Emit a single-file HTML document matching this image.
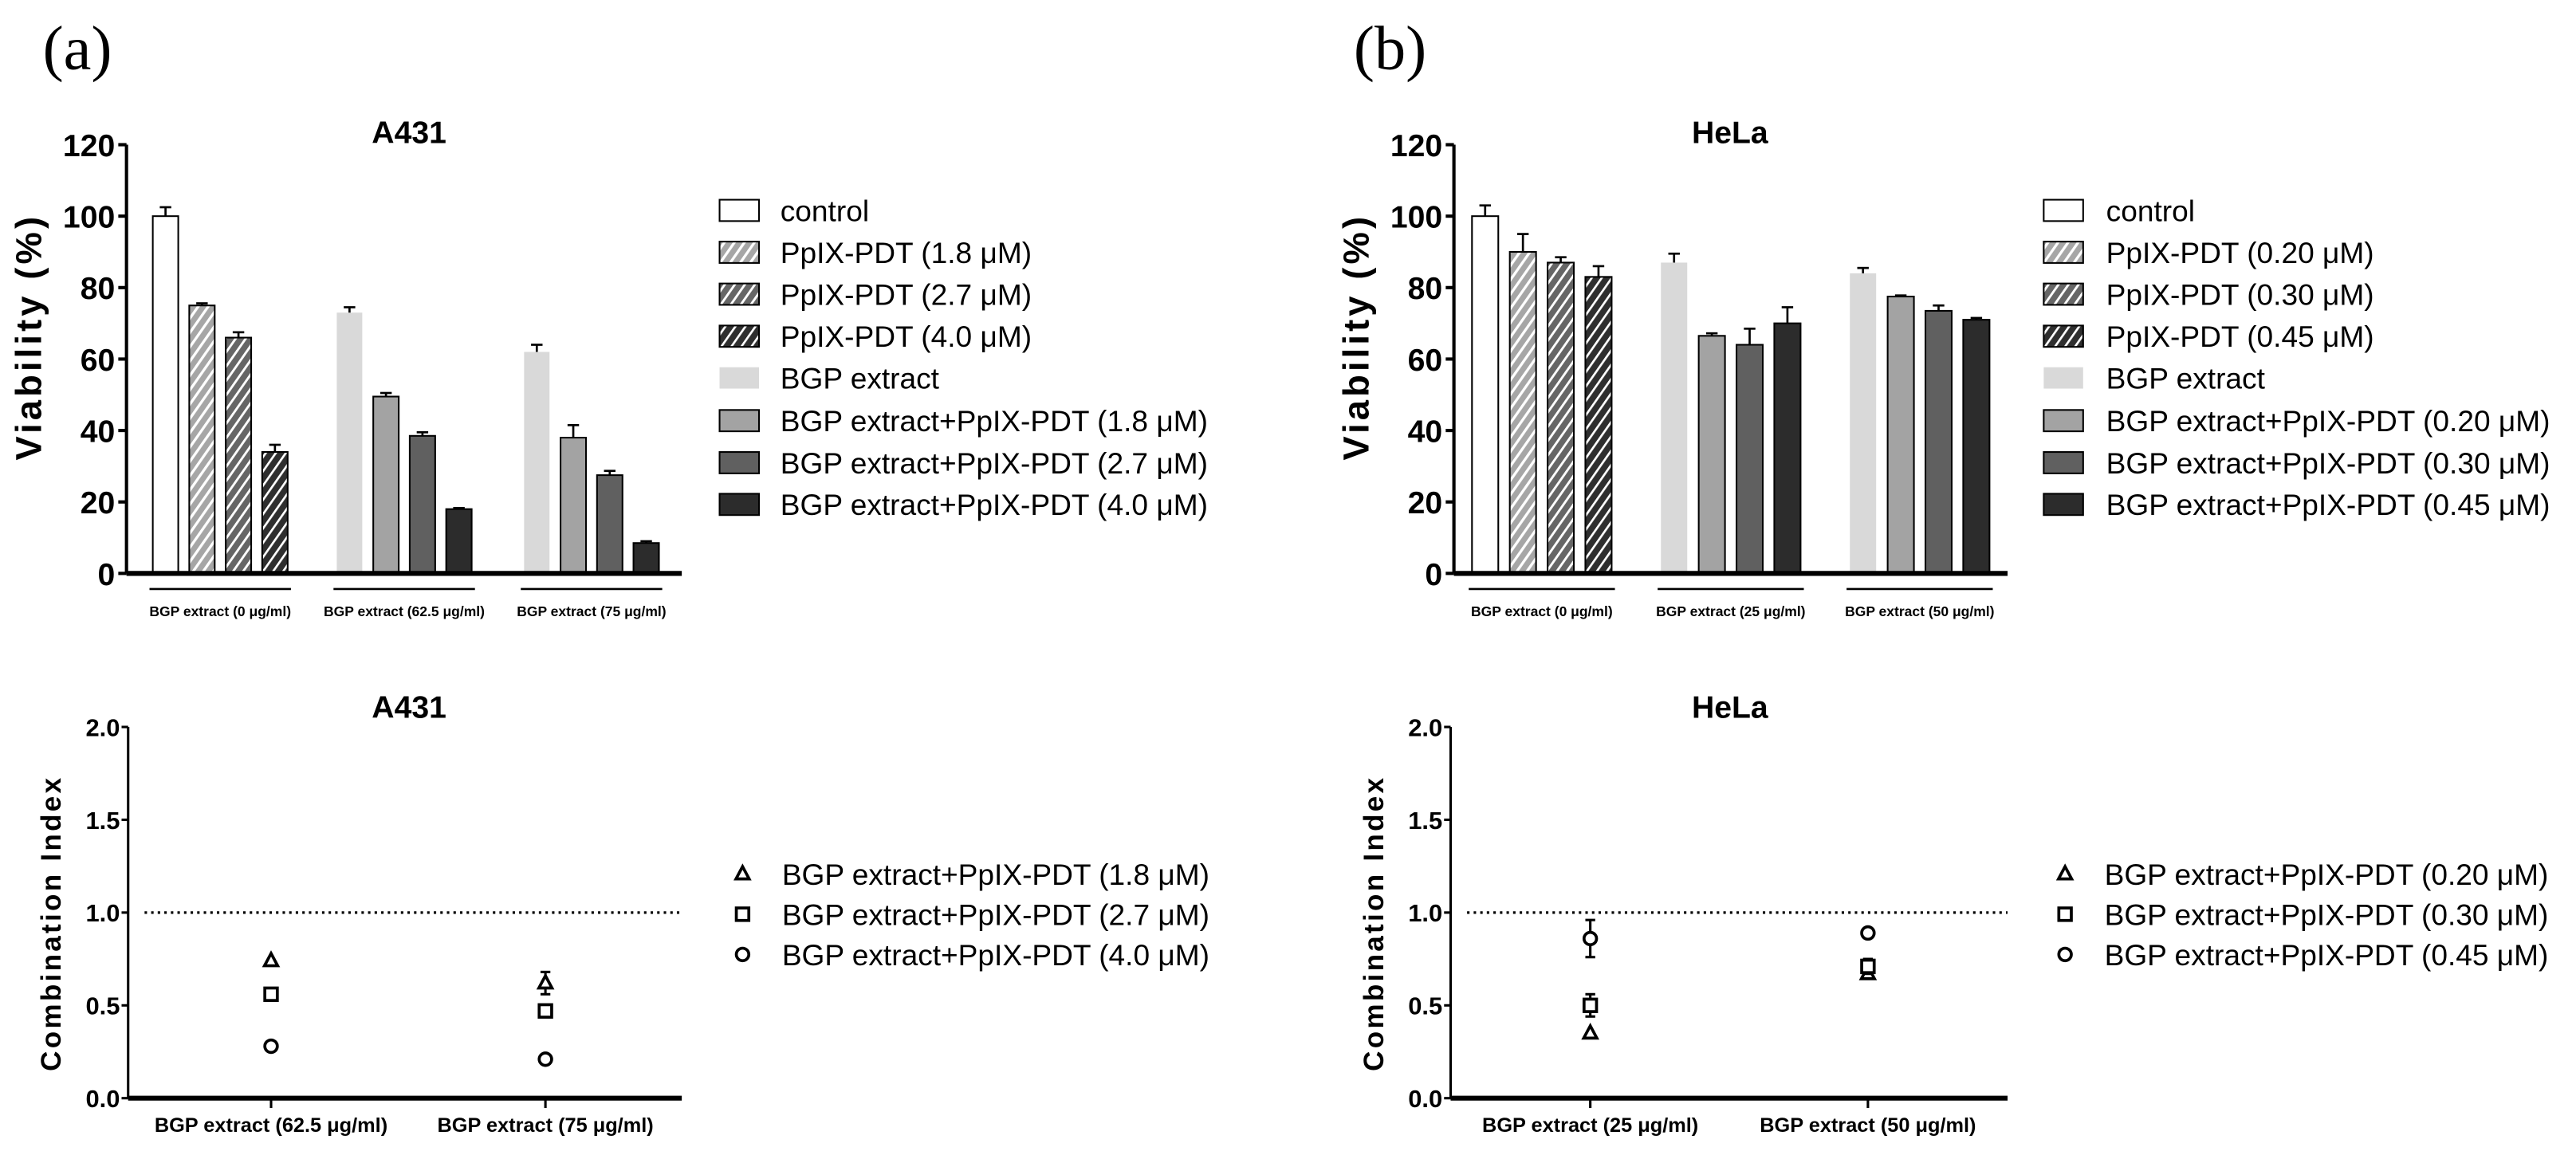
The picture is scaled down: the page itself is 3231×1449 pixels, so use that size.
<!DOCTYPE html>
<html><head><meta charset="utf-8">
<style>
html,body{margin:0;padding:0;background:#fff;}
svg{display:block;}
text{font-family:"Liberation Sans",Arial,sans-serif;}
</style></head>
<body>
<svg id="fig" width="3231" height="1449" viewBox="0 0 1568 703" xmlns="http://www.w3.org/2000/svg">
<defs>
<pattern id="h1" patternUnits="userSpaceOnUse" width="5" height="5" patternTransform="rotate(35)"><rect width="5" height="5" fill="#a6a6a6"/><rect width="1.6" height="5" fill="#fff"/></pattern>
<pattern id="h2" patternUnits="userSpaceOnUse" width="5" height="5" patternTransform="rotate(35)"><rect width="5" height="5" fill="#666"/><rect width="1.4" height="5" fill="#fff"/></pattern>
<pattern id="h3" patternUnits="userSpaceOnUse" width="5" height="5" patternTransform="rotate(35)"><rect width="5" height="5" fill="#2e2e2e"/><rect width="1.3" height="5" fill="#fff"/></pattern>
</defs>
<text x="26" y="42" font-size="38" style="font-family:'Liberation Serif',serif">(a)</text>
<text x="824" y="42" font-size="38" style="font-family:'Liberation Serif',serif">(b)</text>
</svg>
<script>
const NS="http://www.w3.org/2000/svg";
const svg=document.getElementById('fig');
function el(tag,attrs,parent,txt){const e=document.createElementNS(NS,tag);for(const k in attrs)e.setAttribute(k,attrs[k]);if(txt!==undefined)e.textContent=txt;(parent||svg).appendChild(e);return e;}

// ---- data ----
const barSeriesA=["control","PpIX-PDT (1.8 μM)","PpIX-PDT (2.7 μM)","PpIX-PDT (4.0 μM)","BGP extract","BGP extract+PpIX-PDT (1.8 μM)","BGP extract+PpIX-PDT (2.7 μM)","BGP extract+PpIX-PDT (4.0 μM)"];
const barSeriesB=["control","PpIX-PDT (0.20 μM)","PpIX-PDT (0.30 μM)","PpIX-PDT (0.45 μM)","BGP extract","BGP extract+PpIX-PDT (0.20 μM)","BGP extract+PpIX-PDT (0.30 μM)","BGP extract+PpIX-PDT (0.45 μM)"];
const groupsA=["BGP extract (0 μg/ml)","BGP extract (62.5 μg/ml)","BGP extract (75 μg/ml)"];
const groupsB=["BGP extract (0 μg/ml)","BGP extract (25 μg/ml)","BGP extract (50 μg/ml)"];
const valuesA=[[100,75,66,34],[73,49.5,38.5,18],[62,38,27.5,8.5]];
const errorsA=[[2.5,0.6,1.5,2],[1.5,1,1,0.3],[2,3.5,1.2,0.5]];
const valuesB=[[100,90,87,83],[87,66.5,64,70],[84,77.5,73.5,71]];
const errorsB=[[3,5,1.5,3],[2.5,0.7,4.5,4.5],[1.5,0.3,1.5,0.5]];
const vTicks=[0,20,40,60,80,100,120];
const ciSeriesA=["BGP extract+PpIX-PDT (1.8 μM)","BGP extract+PpIX-PDT (2.7 μM)","BGP extract+PpIX-PDT (4.0 μM)"];
const ciSeriesB=["BGP extract+PpIX-PDT (0.20 μM)","BGP extract+PpIX-PDT (0.30 μM)","BGP extract+PpIX-PDT (0.45 μM)"];
const ciCatsA=["BGP extract (62.5 μg/ml)","BGP extract (75 μg/ml)"];
const ciCatsB=["BGP extract (25 μg/ml)","BGP extract (50 μg/ml)"];
const ciValsA=[[0.74,0.62],[0.56,0.47],[0.28,0.21]];
const ciErrA=[[0,0.06],[0,0],[0,0]];
const ciValsB=[[0.35,0.67],[0.50,0.71],[0.86,0.89]];
const ciErrB=[[0,0],[0.06,0.04],[0.1,0]];
const ciTicks=[0.0,0.5,1.0,1.5,2.0];

const fills=["#fff","url(#h1)","url(#h2)","url(#h3)","#d9d9d9","#a3a3a3","#606060","#2c2c2c"];

function barChart(o){
  const g=el('g',{});
  
  
  const y=v=>o.y0-(v/120)*(o.y0-o.y120);
  const t=el('text',{x:o.titleX,y:87,'font-size':19,'font-weight':'bold','text-anchor':'middle'},g,o.title);
  
  const yt=el('text',{x:0,y:0,'font-size':22,'font-weight':'bold','letter-spacing':2,'text-anchor':'middle',transform:`translate(${o.ax-52},205) rotate(-90)`},g,'Viability (%)');
  
  vTicks.forEach(v=>{
    el('line',{x1:o.ax-5,x2:o.ax,y1:y(v),y2:y(v),stroke:'#000','stroke-width':2},g);
    const tl=el('text',{x:o.ax-7,y:y(v)+7,'font-size':19,'font-weight':'bold','text-anchor':'end'},g,String(v));
    
  });
  const bw=o.bw, step=o.step;
  o.values.forEach((grp,gi)=>{
    const gx=o.gx[gi];
    grp.forEach((v,bi)=>{
      const si=gi===0?bi:(bi===0?4:4+bi);
      const x=gx+bi*step;
      const isBGP=si===4;
      const r=el('rect',{x:x,y:y(v),width:bw,height:y(0)-y(v),fill:fills[si],stroke:isBGP?'none':'#000','stroke-width':1},g);
      
      const e=o.errors[gi][bi], cx=x+bw/2;
      el('line',{x1:cx,x2:cx,y1:y(v),y2:y(v+e),stroke:'#000','stroke-width':1.3},g);
      el('line',{x1:cx-3.5,x2:cx+3.5,y1:y(v+e),y2:y(v+e),stroke:'#000','stroke-width':1.3},g);
    });
    const lx1=gx-2, lx2=gx+3*step+bw+2;
    el('line',{x1:lx1,x2:lx2,y1:358.5,y2:358.5,stroke:'#000','stroke-width':1.3},g);
    const gl=el('text',{x:(lx1+lx2)/2,y:375,'font-size':8.5,'font-weight':'bold','text-anchor':'middle'},g,o.groups[gi]);
    
  });
  el('line',{x1:o.ax,x2:o.ax,y1:y(120),y2:y(0),stroke:'#000','stroke-width':2},g);
  el('line',{x1:o.ax,x2:o.axEnd,y1:y(0),y2:y(0),stroke:'#000','stroke-width':3},g);
  const rows=[128,153.5,179,204.6,230,256,281.6,307];
  o.legend.forEach((s,i)=>{
    const r=el('rect',{x:o.legX,y:rows[i]-6.5,width:24,height:13,fill:fills[i],stroke:i===4?'none':'#000','stroke-width':1},g);
    
    const lt=el('text',{x:o.legTX,y:rows[i]+6.5,'font-size':18},g,s);
    
  });
}
barChart({name:'viability-chart-a431',title:'A431',titleX:249,ax:77,axEnd:415,y0:349,y120:88,gx:[93,205,319],bw:15.5,step:22.2,values:valuesA,errors:errorsA,groups:groupsA,legend:barSeriesA,legX:438,legTX:475});
barChart({name:'viability-chart-hela',title:'HeLa',titleX:1053,ax:885,axEnd:1222,y0:349,y120:88,gx:[896,1011,1126],bw:16,step:23,values:valuesB,errors:errorsB,groups:groupsB,legend:barSeriesB,legX:1244,legTX:1282});

function marker(g,k,x,y){
  let m;
  if(k===0) m=el('polygon',{points:`${x},${y-4.5} ${x-4},${y+3} ${x+4},${y+3}`,fill:'#fff',stroke:'#000','stroke-width':1.8},g);
  else if(k===1) m=el('rect',{x:x-3.8,y:y-3.8,width:7.6,height:7.6,fill:'#fff',stroke:'#000','stroke-width':1.8},g);
  else m=el('circle',{cx:x,cy:y,r:3.8,fill:'#fff',stroke:'#000','stroke-width':1.8},g);
  
}
function ciChart(o){
  const g=el('g',{});
  
  
  const y=v=>o.y0-(v/2)*(o.y0-o.y2);
  const t=el('text',{x:o.titleX,y:437,'font-size':19,'font-weight':'bold','text-anchor':'middle'},g,o.title);
  
  const yt=el('text',{x:0,y:0,'font-size':17,'font-weight':'bold','letter-spacing':1.6,'text-anchor':'middle',transform:`translate(${o.ax-41},562) rotate(-90)`},g,'Combination Index');
  
  ciTicks.forEach(v=>{
    el('line',{x1:o.ax-4,x2:o.ax,y1:y(v),y2:y(v),stroke:'#000','stroke-width':1.5},g);
    const tl=el('text',{x:o.ax-5,y:y(v)+5.5,'font-size':15,'font-weight':'bold','text-anchor':'end'},g,v.toFixed(1));
    
  });
  const dl=el('line',{x1:o.ax+10,x2:o.axEnd,y1:y(1),y2:y(1),stroke:'#000','stroke-width':1.6,'stroke-dasharray':'1.5,2.5'},g);
  
  o.cats.forEach((c,ci)=>{
    const x=o.cx[ci];
    el('line',{x1:x,x2:x,y1:y(0),y2:y(0)+6,stroke:'#000','stroke-width':1.5},g);
    const cl=el('text',{x:x,y:689,'font-size':12.3,'font-weight':'bold','text-anchor':'middle'},g,c);
    
    o.vals.forEach((sv,si)=>{
      const v=sv[ci], e=o.errs[si][ci];
      if(e>0){
        el('line',{x1:x,x2:x,y1:y(v-e),y2:y(v+e),stroke:'#000','stroke-width':1.5},g);
        el('line',{x1:x-3,x2:x+3,y1:y(v+e),y2:y(v+e),stroke:'#000','stroke-width':1.5},g);
        el('line',{x1:x-3,x2:x+3,y1:y(v-e),y2:y(v-e),stroke:'#000','stroke-width':1.5},g);
      }
      marker(g,si,x,y(v));
    });
  });
  el('line',{x1:o.ax,x2:o.ax,y1:y(2),y2:y(0),stroke:'#000','stroke-width':1.5},g);
  el('line',{x1:o.ax,x2:o.axEnd,y1:y(0),y2:y(0),stroke:'#000','stroke-width':3},g);
  const rows=[532,556.5,581];
  o.legend.forEach((s,i)=>{
    marker(g,i,o.legX,rows[i]);
    const lt=el('text',{x:o.legX+24,y:rows[i]+6.5,'font-size':18},g,s);
    
  });
}
ciChart({name:'ci-chart-a431',title:'A431',titleX:249,ax:78,axEnd:415,y0:668.5,y2:442.5,cx:[165,332],cats:ciCatsA,vals:ciValsA,errs:ciErrA,legend:ciSeriesA,legX:452});
ciChart({name:'ci-chart-hela',title:'HeLa',titleX:1053,ax:883,axEnd:1222,y0:668.5,y2:442.5,cx:[968,1137],cats:ciCatsB,vals:ciValsB,errs:ciErrB,legend:ciSeriesB,legX:1257});
</script>
</body></html>
